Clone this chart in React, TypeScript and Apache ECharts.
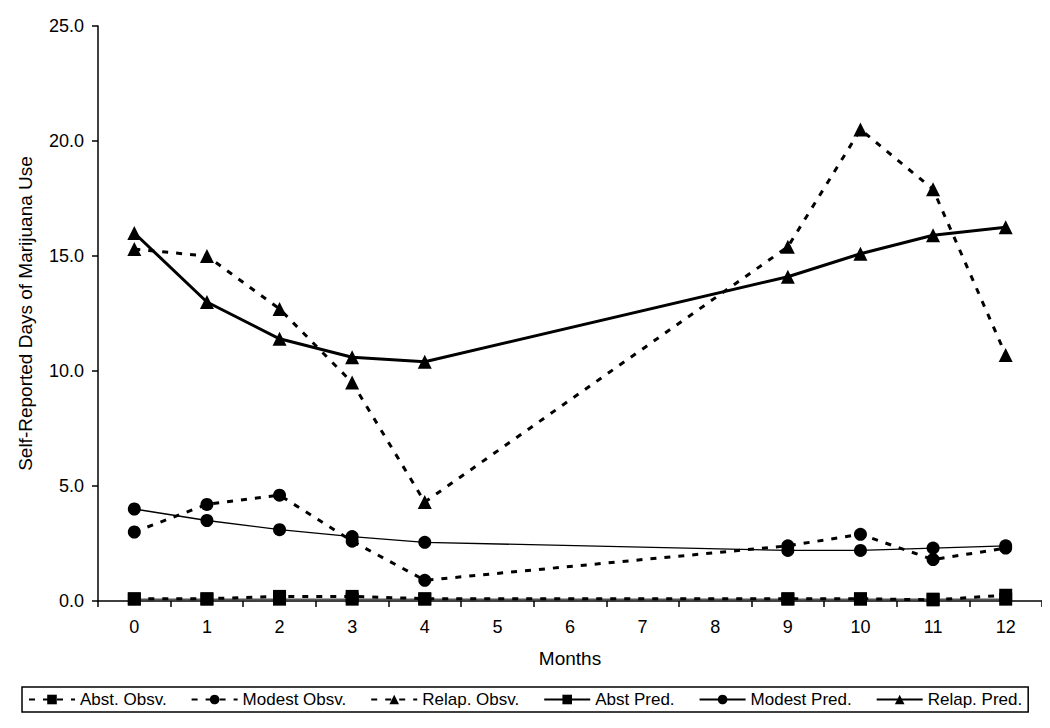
import React, { useEffect, useRef } from "react";
import * as echarts from "echarts";

const months = ["0", "1", "2", "3", "4", "5", "6", "7", "8", "9", "10", "11", "12"];
const abstObs = [0.1, 0.1, 0.2, 0.2, 0.1, null, null, null, null, 0.1, 0.1, 0.05, 0.25];
const modestObs = [3.0, 4.2, 4.6, 2.6, 0.9, null, null, null, null, 2.4, 2.9, 1.8, 2.3];
const relapObs = [15.3, 15.0, 12.7, 9.5, 4.3, null, null, null, null, 15.4, 20.5, 17.9, 10.7];
const abstPred = [0.08, 0.08, 0.08, 0.08, 0.08, null, null, null, null, 0.08, 0.08, 0.08, 0.08];
const modestPred = [4.0, 3.5, 3.1, 2.8, 2.55, null, null, null, null, 2.2, 2.2, 2.3, 2.4];
const relapPred = [16.0, 13.0, 11.4, 10.6, 10.4, null, null, null, null, 14.1, 15.1, 15.9, 16.25];
const seriesNames = ["Abst. Obsv.", "Modest Obsv.", "Relap. Obsv.", "Abst Pred.", "Modest Pred.", "Relap. Pred."];

export default function App() {
  const ref = useRef<HTMLDivElement>(null);
  useEffect(() => {
    if (!ref.current) return;
    const chart = echarts.init(ref.current, null, { renderer: "svg" });
    const dash = [6, 8];
    const font = "Liberation Sans, Arial, sans-serif";
    const mk = (name: string, data: any[], symbol: string, size: number, width: number, type: any) => ({
      name,
      type: "line",
      data,
      connectNulls: true,
      symbol,
      symbolSize: size,
      itemStyle: { color: "#000" },
      lineStyle: { color: "#000", width, type },
      z: type === "solid" ? 3 : 2,
    });
    chart.setOption({
      animation: false,
      backgroundColor: "#fff",
      textStyle: { fontFamily: font },
      grid: { left: 89, right: 0, top: 18, bottom: 119 },
      legend: {
        data: seriesNames,
        top: 679,
        left: 14,
        orient: "horizontal",
        borderColor: "#000",
        borderWidth: 1.5,
        padding: [4, 6, 4, 6],
        itemWidth: 46,
        itemHeight: 12,
        itemGap: 24,
        textStyle: { fontSize: 17, color: "#000", fontFamily: font },
      },
      xAxis: {
        type: "category",
        data: months,
        boundaryGap: true,
        name: "Months",
        nameLocation: "middle",
        nameGap: 48,
        nameTextStyle: { fontSize: 19, color: "#000" },
        axisLine: { lineStyle: { color: "#000", width: 1.5 } },
        axisTick: { show: true, length: 6, lineStyle: { color: "#000", width: 1.5 } },
        axisLabel: { fontSize: 18, color: "#000", margin: 17 },
        splitLine: { show: false },
      },
      yAxis: {
        type: "value",
        min: 0,
        max: 25,
        interval: 5,
        name: "Self-Reported Days of Marijuana Use",
        nameLocation: "middle",
        nameGap: 63,
        nameRotate: 90,
        nameTextStyle: { fontSize: 19, color: "#000" },
        axisLine: { show: true, lineStyle: { color: "#000", width: 1.5 } },
        axisTick: { show: true, length: 6, lineStyle: { color: "#000", width: 1.5 } },
        axisLabel: { fontSize: 18, color: "#000", margin: 14, formatter: (v: number) => v.toFixed(1) },
        splitLine: { show: false },
      },
      series: [
        mk(seriesNames[0], abstObs, "rect", 13, 3, dash),
        mk(seriesNames[1], modestObs, "circle", 13, 3, dash),
        mk(seriesNames[2], relapObs, "triangle", 14, 3, dash),
        mk(seriesNames[3], abstPred, "rect", 13, 1, "solid"),
        mk(seriesNames[4], modestPred, "circle", 13, 1.3, "solid"),
        mk(seriesNames[5], relapPred, "triangle", 14, 3, "solid"),
      ],
    });
    return () => chart.dispose();
  }, []);
  return <div ref={ref} style={{ width: 1034, height: 712 }} />;
}
